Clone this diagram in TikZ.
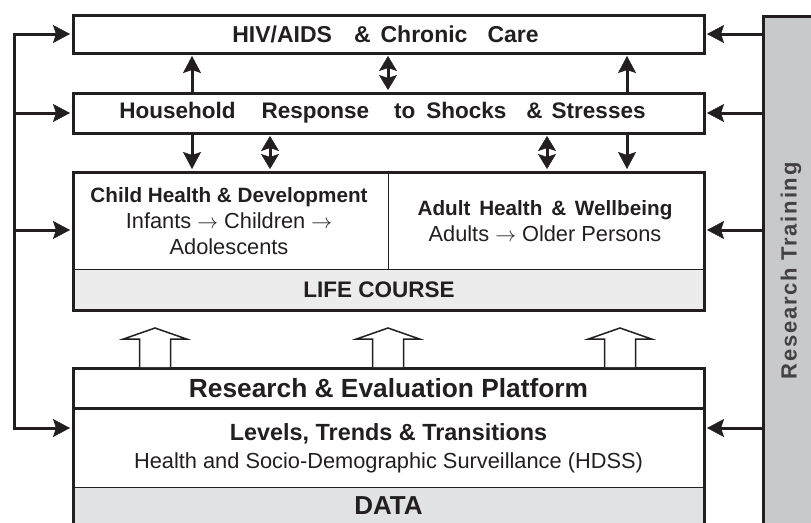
\documentclass[tikz,border=0pt]{standalone}
\usepackage{fontspec}
\setmainfont{Liberation Sans}
\usetikzlibrary{arrows.meta}

\definecolor{ink}{HTML}{231F20}
\definecolor{lifegray}{HTML}{ECECEC}
\definecolor{datagray}{HTML}{E1E2E4}
\definecolor{bargray}{HTML}{C8C9CB}

\begin{document}
\begin{tikzpicture}
[
x=1pt, y=-1pt,
box/.style={rectangle, draw=ink, fill=white, line width=3pt, minimum width=631pt, inner sep=0pt},
band/.style={rectangle, draw=none, minimum width=628pt, inner sep=0pt},
title/.style={font=\bfseries\fontsize{22.5}{26}\selectfont, text=ink},
plain/.style={font=\fontsize{21.8}{26}\selectfont, text=ink, align=center},
link/.style={draw=ink, line width=3pt, line join=miter, shorten >=1.5pt},
thinline/.style={draw=ink, line width=0.9pt},
tip/.style={-{Stealth[length=17pt, width=18pt, inset=3pt, line width=0.5pt]}},
both/.style={{Stealth[length=15pt, width=18pt, inset=3pt, line width=0.5pt]}-{Stealth[length=15pt, width=18pt, inset=3pt, line width=0.5pt]}, shorten <=1.5pt},
hollow/.style={draw=ink, fill=white, line width=1.5pt, line join=miter},
]

\clip (0,0) rectangle (811,522);

% research training bar on the right
\node[rectangle, draw=ink, fill=bargray, line width=3pt, minimum width=100pt, minimum height=560pt, anchor=north west] (bar) at (762,15) {};
\node[rotate=90, font=\bfseries\fontsize{22}{26}\selectfont\addfontfeature{LetterSpace=8}, text=ink!85] (bartext) at (791,271) {Research Training};

% top two boxes
\node[box, title, font=\bfseries\fontsize{23}{26}\selectfont, minimum height=38pt] (hiv) at (388.5,34) {\hspace{-6pt}HIV/AIDS\hspace{22pt}\&\hspace{10pt}Chronic\hspace{20pt}Care};
\node[box, title, minimum height=40pt] (hh) at (388.5,113) {\hspace{-12pt}Household\hspace{26pt}Response\hspace{25pt}to\hspace{11pt}Shocks\hspace{20pt}\&\hspace{9pt}Stresses};

% life course
\node[band, fill=lifegray, minimum height=40pt, title] (lc) at (388.5,290) {\hspace{-19pt}LIFE COURSE};
\node[box, fill=none, minimum height=138pt] (life) at (388.5,241) {};
\draw[thinline] (lc.north west) -- (lc.north east);
\draw[thinline] (lc.north) -- (life.north);
\node[plain] (child) at (229,221) {\textbf{\fontsize{20.7}{26}\selectfont Child Health \& Development}\\Infants $\rightarrow$ Children $\rightarrow$\\Adolescents};
\node[plain] (adult) at (545,221) {\textbf{\fontsize{20.7}{26}\selectfont Adult\hspace{3pt} Health\hspace{3pt} \&\hspace{3pt} Wellbeing}\\Adults $\rightarrow$ Older Persons};

% research and evaluation platform
\node[box, minimum height=180pt, anchor=north] (plat) at (388.5,367) {};
\node[band, fill=datagray, minimum height=36pt, anchor=north, font=\bfseries\fontsize{26}{28}\selectfont, text=ink] (data) at (388.5,487) {DATA};
\draw[thinline] (data.north west) -- (data.north east);
\node[band, anchor=north, minimum height=41pt, font=\bfseries\fontsize{26.3}{28}\selectfont, text=ink] (ptitle) at (388.5,367) {Research \& Evaluation Platform};
\draw[link, shorten >=0pt] (ptitle.south west) -- (ptitle.south east);
\node[plain] (levels) at (388.5,448) {\textbf{\fontsize{23.4}{28}\selectfont Levels, Trends \& Transitions}\\[2pt]Health and Socio-Demographic Surveillance (HDSS)};

% hollow arrows from platform to life course
\foreach \cx [count=\i] in {155,388,620} {
  \coordinate (up\i) at (\cx,0);
  \draw[hollow] (plat.north -| up\i) ++(-15.5,0) -- ++(0,-28) -- ++(-16,0) -- ++(31.5,-11) -- ++(31.5,11) -- ++(-16,0) -- ++(0,28);
}

% arrows between the top boxes
\coordinate (c1) at (192,0);
\coordinate (c2) at (388,0);
\coordinate (c3) at (627,0);
\coordinate (c4) at (270,0);
\coordinate (c5) at (547,0);
\draw[link, tip] (hh.north -| c1) -- (hiv.south -| c1);
\draw[link, both] (hh.north -| c2) -- (hiv.south -| c2);
\draw[link, tip] (hh.north -| c3) -- (hiv.south -| c3);
\draw[link, tip] (hh.south -| c1) -- (life.north -| c1);
\draw[link, both] (hh.south -| c4) -- (life.north -| c4);
\draw[link, both] (hh.south -| c5) -- (life.north -| c5);
\draw[link, tip] (hh.south -| c3) -- (life.north -| c3);

% left spine
\coordinate (L) at (14,0);
\coordinate (rowC) at (0,230);
\coordinate (rowD) at (0,428);
\draw[link, tip] (L |- rowD) |- (hiv.west);
\draw[link, tip] (L |- hiv.west) |- (plat.west |- rowD);
\draw[link, tip] (L |- hh.west) -- (hh.west);
\draw[link, tip] (L |- rowC) -- (life.west |- rowC);

% arrows from research training
\draw[link, tip] (bar.west |- hiv.east) -- (hiv.east);
\draw[link, tip] (bar.west |- hh.east) -- (hh.east);
\draw[link, tip] (bar.west |- rowC) -- (life.east |- rowC);
\draw[link, tip] (bar.west |- rowD) -- (plat.east |- rowD);

\end{tikzpicture}
\end{document}
